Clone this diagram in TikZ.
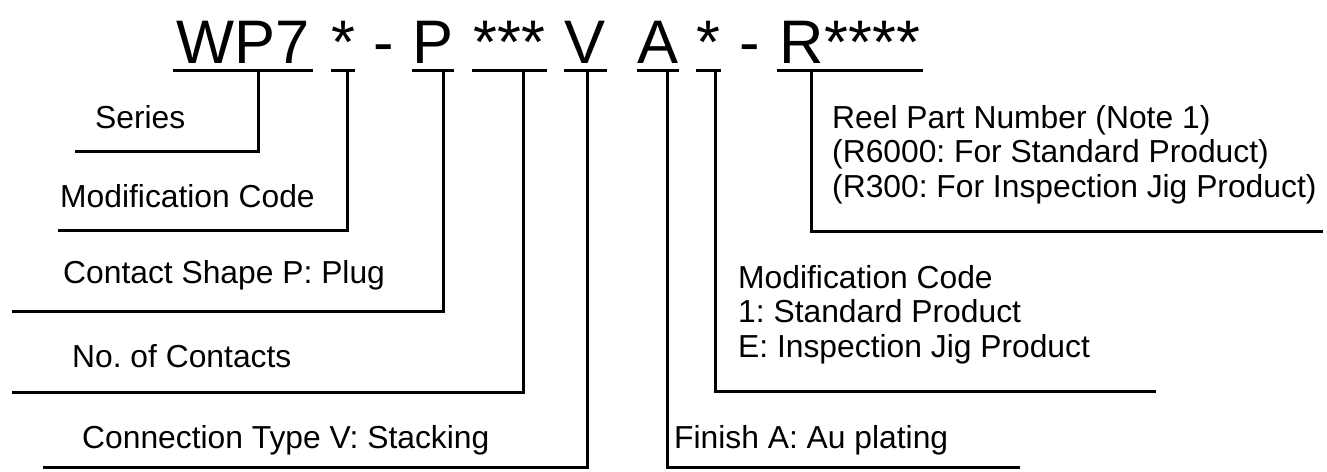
\documentclass[tikz,border=0pt]{standalone}
\usepackage{fontspec}
\setmainfont{Liberation Sans}
\frenchspacing
\tikzset{%
  code/.style  = {anchor=base, inner sep=0pt, text depth=7pt,%
                  font=\fontsize{61.5}{70}\selectfont},%
  ucode/.style = {code, minimum width=#1},%
  lbl/.style   = {anchor=base west, inner sep=0pt, align=left,%
                  font=\fontsize{31.8}{34.5}\selectfont},%
  lead/.style  = {line width=3pt}%
}
\begin{document}
\begin{tikzpicture}[x=1pt,y=-1pt]
  \useasboundingbox (0,0) rectangle (1327,471);
  % part number
  \node[ucode=140pt] (wp) at (243,63)   {WP7};
  \node[ucode=24pt]  (m1) at (343,63)   {*};
  \node[code]        (d1) at (384,63)   {-};
  \node[ucode=42pt]  (cp) at (433,63)   {P};
  \node[ucode=75pt]  (cn) at (509.5,63) {***};
  \node[ucode=43pt]  (cv) at (585.5,63) {V};
  \node[ucode=40pt]  (ca) at (658,63)   {A};
  \node[ucode=25pt]  (m2) at (708.5,63) {*};
  \node[code]        (d2) at (750,63)   {-};
  \node[ucode=146pt] (cr) at (850,63)   {R****};
  \foreach \n in {wp,m1,cp,cn,cv,ca,m2,cr}
    \draw[lead] (\n.south west) -- (\n.south east);
  % ends of the leader lines
  \coordinate (sEnd)  at (75,151);
  \coordinate (mEnd)  at (58,230);
  \coordinate (pEnd)  at (12,311);
  \coordinate (nEnd)  at (12,392);
  \coordinate (vEnd)  at (43,467);
  \coordinate (aEnd)  at (1020,467);
  \coordinate (m2End) at (1156,391);
  \coordinate (rEnd)  at (1323,231);
  % labels (base of a block = its last line)
  \node[lbl] (series) at (95,128)  {Series};
  \node[lbl] (modc)   at (60,207)  {Modification Code};
  \node[lbl] (shape)  at (63,283)  {Contact Shape P: Plug};
  \node[lbl] (nocon)  at (72,367)  {No. of Contacts};
  \node[lbl] (conn)   at (82,448)  {Connection Type V: Stacking};
  \node[lbl] (finish) at (674,448) {Finish A: Au plating};
  \node[lbl] (modc2)  at (738,357) {Modification Code\\1: Standard Product\\E: Inspection Jig Product};
  \node[lbl] (reel)   at (832,197) {Reel Part Number (Note 1)\\(R6000: For Standard Product)\\(R300: For Inspection Jig Product)};
  % leaders
  \draw[lead] ([xshift=15pt]wp.south)   |- (sEnd);
  \draw[lead] ([xshift=4pt]m1.south)    |- (mEnd);
  \draw[lead] ([xshift=10pt]cp.south)   |- (pEnd);
  \draw[lead] ([xshift=13.5pt]cn.south) |- (nEnd);
  \draw[lead] ([xshift=1.5pt]cv.south)  |- (vEnd);
  \draw[lead] ([xshift=9pt]ca.south)    |- (aEnd);
  \draw[lead] ([xshift=6.5pt]m2.south)  |- (m2End);
  \draw[lead] ([xshift=-39pt]cr.south)  |- (rEnd);
\end{tikzpicture}
\end{document}
